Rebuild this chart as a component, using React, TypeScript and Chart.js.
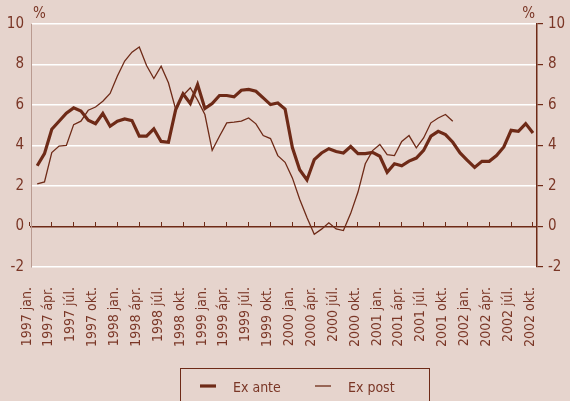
import React, { useEffect, useRef } from 'react';
import { Chart, registerables } from 'chart.js';

Chart.register(...registerables);

// Quarterly tick labels (month index 0 = 1997 jan.)
const TICK_LABELS = [
  '1997 jan.', '1997 ápr.', '1997 júl.', '1997 okt.',
  '1998 jan.', '1998 ápr.', '1998 júl.', '1998 okt.',
  '1999 jan.', '1999 ápr.', '1999 júl.', '1999 okt.',
  '2000 jan.', '2000 ápr.', '2000 júl.', '2000 okt.',
  '2001 jan.', '2001 ápr.', '2001 júl.', '2001 okt.',
  '2002 jan.', '2002 ápr.', '2002 júl.', '2002 okt.',
];
const TICK_MONTHS = TICK_LABELS.map((_, i) => i * 3);

// Series start at month index 1
const START_MONTH = 1;

const EX_ANTE = [
  3.0, 3.6, 4.8, 5.2, 5.6, 5.86, 5.7, 5.25, 5.08, 5.58, 4.95,
  5.2, 5.31, 5.23, 4.46, 4.46, 4.82, 4.2, 4.16, 5.78, 6.55, 6.07, 7.01,
  5.83, 6.07, 6.47, 6.47, 6.4, 6.73, 6.77, 6.68, 6.35, 6.02, 6.1, 5.8,
  3.9, 2.8, 2.3, 3.3, 3.63, 3.84, 3.7, 3.63, 3.95, 3.6, 3.6, 3.66,
  3.47, 2.68, 3.1, 3.0, 3.23, 3.38, 3.76, 4.46, 4.7, 4.54, 4.16, 3.63,
  3.27, 2.92, 3.22, 3.22, 3.5, 3.93, 4.75, 4.7, 5.08, 4.62,
];

const EX_POST = [
  2.1, 2.2, 3.65, 3.97, 4.0, 5.03, 5.2, 5.74, 5.9, 6.19, 6.57,
  7.43, 8.17, 8.61, 8.86, 7.95, 7.31, 7.92, 7.1, 5.78, 6.47, 6.85, 6.24,
  5.53, 3.76, 4.46, 5.12, 5.15, 5.2, 5.36, 5.07, 4.49, 4.34, 3.5, 3.17,
  2.4, 1.35, 0.45, -0.38, -0.13, 0.18, -0.12, -0.2, 0.65, 1.7, 3.1, 3.75,
  4.05, 3.55, 3.5, 4.2, 4.49, 3.88, 4.37, 5.12, 5.36, 5.53, 5.2,
];

const Y_MIN = -2;
const Y_MAX = 10;
const Y_STEP = 2;
const TICK_MARK_TOP = 0.2; // value just above the zero line where tick marks start

const BG = '#e6d4cd';
const LINE = '#6e2a17';
const TEXT = '#7a3626';
const AXIS_LIGHT = '#b99a90';
const FONT = "'Liberation Sans Narrow', 'DejaVu Sans Condensed', 'Liberation Sans', sans-serif";

const X_MIN = 0.15;
const X_MAX = 69.55;

const setTicks = (scale: any) => {
  scale.ticks = TICK_MONTHS.map((v) => ({ value: v }));
};

const decorPlugin = {
  id: 'decor',
  afterDraw(chart: any) {
    const { ctx, chartArea } = chart;
    ctx.save();
    ctx.fillStyle = TEXT;
    ctx.font = `15px ${FONT}`;
    ctx.textBaseline = 'alphabetic';
    ctx.textAlign = 'left';
    ctx.fillText('%', chartArea.left + 2, chartArea.top - 6);
    ctx.textAlign = 'right';
    ctx.fillText('%', chartArea.right - 2, chartArea.top - 6);

    // legend box
    ctx.strokeStyle = LINE;
    ctx.lineWidth = 1;
    ctx.strokeRect(180.5, 368.5, 249, 60);
    const xs = [200, 315];
    ctx.font = `14px ${FONT}`;
    ctx.textAlign = 'left';
    chart.data.datasets.forEach((ds: any, i: number) => {
      const x = xs[i];
      ctx.strokeStyle = ds.borderColor;
      ctx.lineWidth = ds.borderWidth;
      ctx.beginPath();
      ctx.moveTo(x, 386);
      ctx.lineTo(x + 16, 386);
      ctx.stroke();
      ctx.fillStyle = TEXT;
      ctx.fillText(ds.label, x + 33, 392);
    });
    ctx.restore();
  },
};

export default function App() {
  const ref = useRef<HTMLCanvasElement>(null);
  useEffect(() => {
    document.body.style.margin = '0';
    document.body.style.background = BG;
    const canvas = ref.current!;
    const chart = new Chart(canvas, {
      type: 'line',
      data: {
        datasets: [
          {
            label: 'Ex ante',
            data: EX_ANTE.map((y, i) => ({ x: START_MONTH + i, y })),
            borderColor: LINE,
            borderWidth: 3.2,
            pointRadius: 0,
            tension: 0,
            fill: false,
          },
          {
            label: 'Ex post',
            data: EX_POST.map((y, i) => ({ x: START_MONTH + i, y })),
            borderColor: LINE,
            borderWidth: 1.3,
            pointRadius: 0,
            tension: 0,
            fill: false,
          },
        ],
      },
      options: {
        animation: false,
        responsive: false,
        maintainAspectRatio: false,
        layout: { padding: { top: 24, bottom: 0, left: 0, right: 0 } },
        plugins: { legend: { display: false }, tooltip: { enabled: false } },
        scales: {
          x: {
            type: 'linear',
            position: 'bottom',
            min: X_MIN,
            max: X_MAX,
            afterBuildTicks: setTicks,
            afterFit: (s: any) => { s.height = 134; },
            grid: { display: false, drawTicks: false },
            border: { display: false },
            ticks: {
              autoSkip: false,
              maxRotation: 90,
              minRotation: 90,
              padding: 20,
              labelOffset: -3,
              color: TEXT,
              font: { family: FONT, size: 14 },
              callback: (v: any) => TICK_LABELS[TICK_MONTHS.indexOf(Number(v))] ?? '',
            },
          },
          x2: {
            type: 'linear',
            axis: 'x',
            position: { y: 0 } as any,
            min: X_MIN,
            max: X_MAX,
            afterBuildTicks: setTicks,
            grid: { display: false, drawOnChartArea: false, drawTicks: false },
            border: { display: true, color: LINE, width: 1.5 },
            ticks: { display: false },
          },
          x3: {
            type: 'linear',
            axis: 'x',
            position: { y: TICK_MARK_TOP } as any,
            min: X_MIN,
            max: X_MAX,
            afterBuildTicks: setTicks,
            grid: { drawOnChartArea: false, drawTicks: true, tickLength: 4, color: LINE, lineWidth: 1 },
            border: { display: false },
            ticks: { display: false },
          },
          y: {
            type: 'linear',
            position: 'left',
            min: Y_MIN,
            max: Y_MAX,
            afterFit: (s: any) => { s.width = 31; },
            ticks: {
              stepSize: Y_STEP,
              padding: 7,
              color: TEXT,
              font: { family: FONT, size: 15 },
            },
            grid: {
              drawTicks: false,
              color: (c: any) => (c.tick && c.tick.value === 0 ? 'rgba(0,0,0,0)' : '#ffffff'),
              lineWidth: 1.5,
            },
            border: { display: true, color: AXIS_LIGHT, width: 1 },
          },
          y2: {
            type: 'linear',
            position: 'right',
            min: Y_MIN,
            max: Y_MAX,
            afterFit: (s: any) => { s.width = 29; },
            ticks: {
              stepSize: Y_STEP,
              padding: 5,
              color: TEXT,
              font: { family: FONT, size: 15 },
            },
            grid: { drawOnChartArea: false, drawTicks: true, tickLength: 6, color: LINE, lineWidth: 1.2 },
            border: { display: true, color: LINE, width: 1.5 },
          },
        },
      },
      plugins: [decorPlugin],
    });
    return () => chart.destroy();
  }, []);
  return (
    <div style={{ width: 570, height: 401, background: BG, overflow: 'hidden' }}>
      <canvas ref={ref} width={570} height={401} style={{ display: 'block' }} />
    </div>
  );
}
